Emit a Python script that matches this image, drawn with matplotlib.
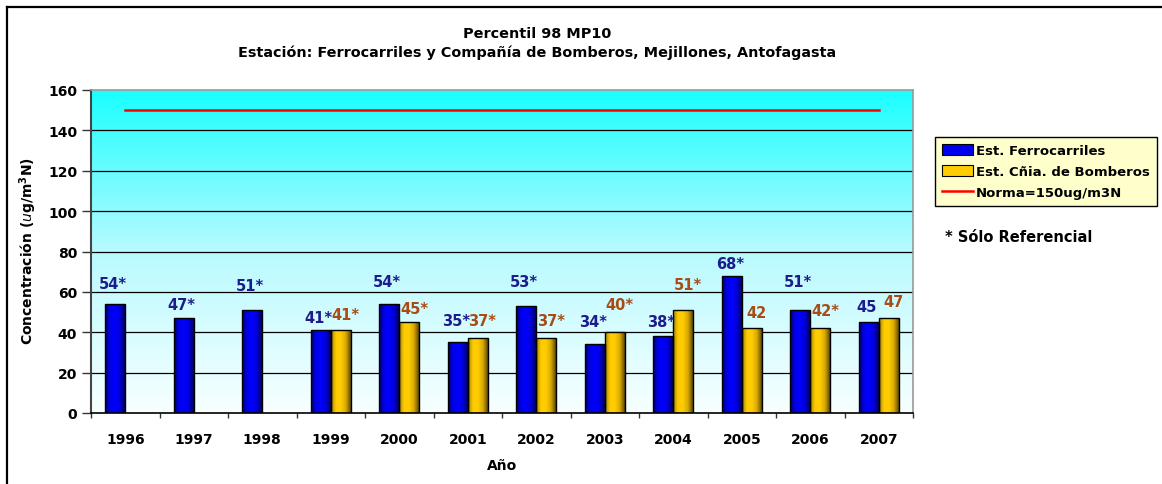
import numpy as np
import matplotlib
matplotlib.use("Agg")
import matplotlib.pyplot as plt
from matplotlib.colors import LinearSegmentedColormap
from matplotlib.lines import Line2D
from matplotlib.patches import Patch

# ---------------- data ----------------
years = ["1996", "1997", "1998", "1999", "2000", "2001", "2002", "2003", "2004", "2005", "2006", "2007"]
ferrocarriles = [54, 47, 51, 41, 54, 35, 53, 34, 38, 68, 51, 45]
bomberos = [np.nan, np.nan, np.nan, 41, 45, 37, 37, 40, 51, 42, 42, 47]
ferro_labels = ["54*", "47*", "51*", "41*", "54*", "35*", "53*", "34*", "38*", "68*", "51*", "45"]
bomb_labels = ["", "", "", "41*", "45*", "37*", "37*", "40*", "51*", "42", "42*", "47"]
norma = 150
yticks = [0, 20, 40, 60, 80, 100, 120, 140, 160]

# label vertical offsets above bars (data units), as in the reference layout
ferro_label_off = [10, 6.8, 12.2, 6.2, 11, 11, 12, 11.4, 7.4, 5.9, 14, 7.8]
bomb_label_off = [0, 0, 0, 7.7, 7, 9, 9, 13.8, 12.7, 7.7, 9, 8]

plt.rcParams['font.family'] = ['DejaVu Sans']

W, H = 1162, 485
fig = plt.figure(figsize=(W / 100, H / 100), dpi=100)
fig.patch.set_facecolor("white")

ax = fig.add_axes([91 / W, 1 - 414 / H, (913 - 91) / W, (414 - 91) / H])
n = len(years)
ax.set_xlim(0, n)
ax.set_ylim(0, 160)

# background gradient
bg = LinearSegmentedColormap.from_list("bg", ["#F8FFFF", "#B8FAFF", "#1AFFFF"])
grad = np.linspace(0, 1, 256).reshape(-1, 1)
ax.imshow(grad, extent=[0, n, 0, 160], origin="lower", cmap=bg, aspect="auto", zorder=0)

# gridlines
for v in yticks[1:-1]:
    ax.axhline(v, color="black", lw=0.9, zorder=1)

centers = np.arange(n) + 0.5
w = 0.29
blue_cmap = LinearSegmentedColormap.from_list("b", ["#000070", "#0000E8", "#0000FF", "#0000D8", "#000060"])
gold_cmap = LinearSegmentedColormap.from_list("g", ["#A88400", "#FFCC00", "#FFCC00", "#D9AA00", "#5E4A00"])
hgrad = np.linspace(0, 1, 64).reshape(1, -1)

b1 = ax.bar(centers - w / 2, ferrocarriles, width=w, color="#0000EE", edgecolor="black", lw=1.0, zorder=3)
b2 = ax.bar(centers + w / 2, bomberos, width=w, color="#FFCC00", edgecolor="black", lw=1.0, zorder=3)

for bars, cm in ((b1, blue_cmap), (b2, gold_cmap)):
    for p in bars:
        h = p.get_height()
        if not np.isfinite(h) or h <= 0:
            continue
        x0 = p.get_x()
        im = ax.imshow(hgrad, extent=[x0, x0 + p.get_width(), 0, h], cmap=cm,
                       aspect="auto", zorder=3.5)
        im.set_clip_path(p)
        p.set_zorder(4)
        p.set_facecolor("none")

# norma line
ax.plot(centers, [norma] * n, color="#FF0000", lw=1.8, zorder=4)

# data labels
for i in range(n):
    ax.text(centers[i] - w / 2 - 0.03, ferrocarriles[i] + ferro_label_off[i], ferro_labels[i],
            ha="center", va="center", fontsize=10.5, fontweight="bold", color="#1C1C8C", zorder=5)
    if np.isfinite(bomberos[i]):
        ax.text(centers[i] + w / 2 + 0.07, bomberos[i] + bomb_label_off[i], bomb_labels[i],
                ha="center", va="center", fontsize=10.5, fontweight="bold", color="#A84B14", zorder=5)

# axes styling
ax.set_yticks(yticks)
ax.set_yticklabels([str(v) for v in yticks], fontsize=10, fontweight="bold")
ax.tick_params(axis="y", direction="out", length=6.5, width=1, pad=3.5, color="#333333")
ax.set_xticks(centers)
ax.set_xticklabels(years, fontsize=10, fontweight="bold")
ax.tick_params(axis="x", which="major", length=0, pad=14)
ax.set_xticks(np.arange(n + 1), minor=True)
ax.tick_params(axis="x", which="minor", direction="out", length=3.6, width=1, color="#333333")
for s in ("top", "right"):
    ax.spines[s].set_color("#999999")
    ax.spines[s].set_linewidth(1.2)
ax.spines["left"].set_color("#444444")
ax.spines["left"].set_linewidth(1.5)
ax.spines["bottom"].set_color("black")
ax.spines["bottom"].set_linewidth(1.2)
for s in ax.spines.values():
    s.set_zorder(6)

# titles & axis labels
fig.text(537 / W, 1 - 34 / H, "Percentil 98 MP10", ha="center", va="center",
         fontsize=10.4, fontweight="bold")
fig.text(537 / W, 1 - 53 / H, "Estación: Ferrocarriles y Compañía de Bomberos, Mejillones, Antofagasta",
         ha="center", va="center", fontsize=10.4, fontweight="bold")
fig.text(502 / W, 1 - 466 / H, "Año", ha="center", va="center", fontsize=10, fontweight="bold")
fig.text(28 / W, 1 - 251 / H, r"Concentración ($\mathbf{\mathit{u}}$g/m$^\mathbf{3}$N)", ha="center", va="center",
         rotation=90, fontsize=10, fontweight="bold")

# legend
handles = [Patch(facecolor="#0000EE", edgecolor="black", lw=0.8),
           Patch(facecolor="#FFCC00", edgecolor="black", lw=0.8),
           Line2D([0], [0], color="#FF0000", lw=1.8)]
labels = ["Est. Ferrocarriles", "Est. Cñia. de Bomberos", "Norma=150ug/m3N"]
leg = fig.legend(handles, labels, loc="upper left",
                 bbox_to_anchor=(935 / W, 1 - 138 / H), frameon=True, fancybox=False,
                 facecolor="#FFFFCC", edgecolor="black", framealpha=1,
                 prop={"family": "DejaVu Sans", "weight": "bold", "size": 9.5},
                 handlelength=2.3, handleheight=0.9, handletextpad=0.25,
                 labelspacing=0.6, borderpad=0.55, borderaxespad=0)
leg.get_frame().set_linewidth(1.0)

fig.text(945 / W, 1 - 238 / H, "* Sólo Referencial", ha="left", va="center",
         fontsize=10.5, fontweight="bold", family="DejaVu Sans")

# figure frame (left and top edges visible)
fig.add_artist(Line2D([7 / W, 7 / W], [0, 1 - 8 / H], transform=fig.transFigure, color="black", lw=1.6))
fig.add_artist(Line2D([7 / W, 1], [1 - 8 / H, 1 - 8 / H], transform=fig.transFigure, color="black", lw=1.6))

fig.savefig("out.png", dpi=100)
